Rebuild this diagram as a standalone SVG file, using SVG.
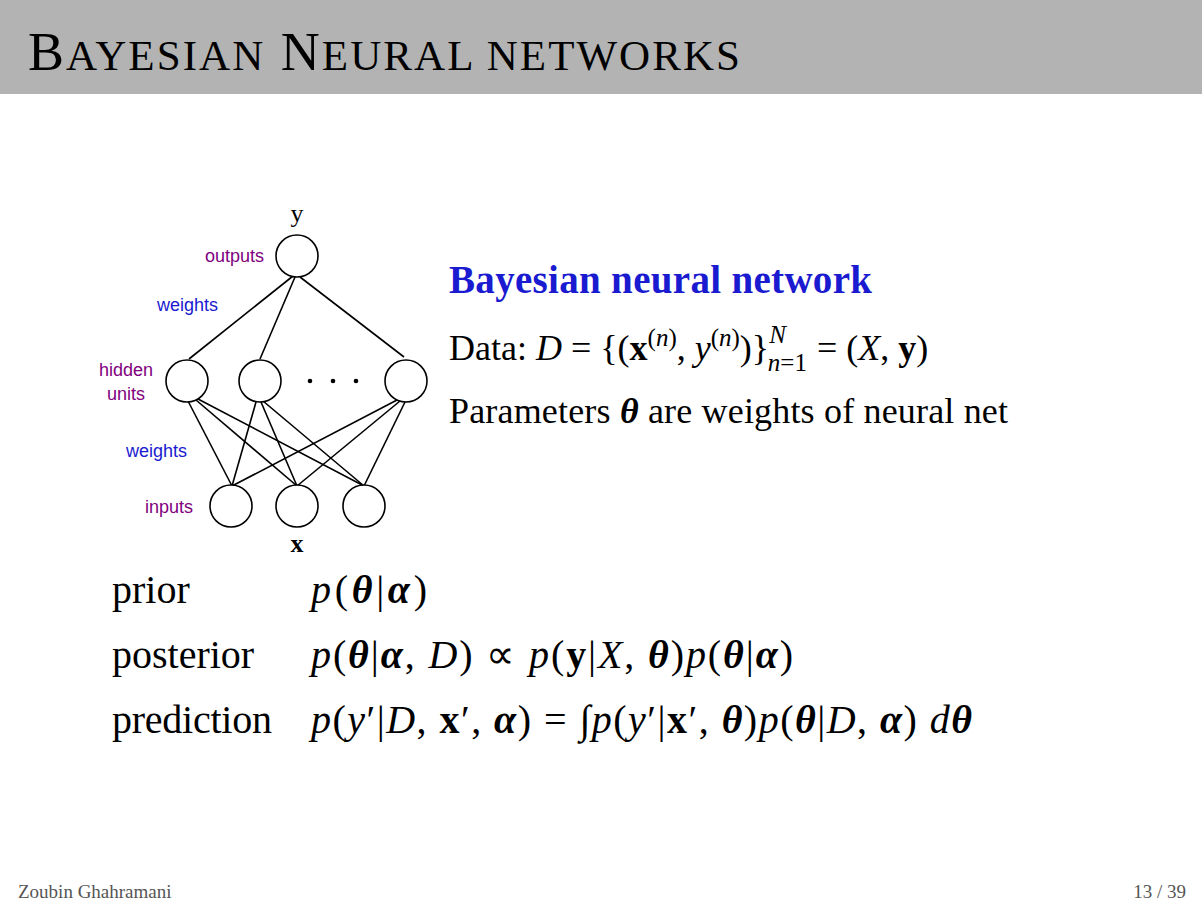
<svg xmlns="http://www.w3.org/2000/svg" width="1202" height="902" viewBox="0 0 1202 902">
<style>
.s{font-family:"Liberation Serif",serif;fill:#000}
.a{font-family:"Liberation Sans",Arial,sans-serif;font-size:18px}
.p{fill:#800080}.b{fill:#1a1ad0}
.n{fill:#fff;stroke:#000;stroke-width:1.6}
.e{stroke:#000;stroke-width:1.6;fill:none}
.m{font-size:40px}
</style>
<rect x="0" y="0" width="1202" height="94" fill="#b3b3b3"/>
<text class="s" x="28" y="70" font-size="54" textLength="712">B<tspan font-size="43">AYESIAN</tspan> N<tspan font-size="43">EURAL NETWORKS</tspan></text>
<g id="connectors">
<line class="e" x1="293" y1="276" x2="189" y2="359"/>
<line class="e" x1="295" y1="277" x2="260" y2="359"/>
<line class="e" x1="300" y1="277" x2="404" y2="357"/>
<line class="e" x1="188" y1="401" x2="232" y2="486"/>
<line class="e" x1="196" y1="400" x2="297" y2="486"/>
<line class="e" x1="198" y1="399" x2="364" y2="486"/>
<line class="e" x1="256" y1="402" x2="232" y2="486"/>
<line class="e" x1="261" y1="402" x2="297" y2="486"/>
<line class="e" x1="263" y1="401" x2="364" y2="486"/>
<line class="e" x1="397" y1="400" x2="232" y2="486"/>
<line class="e" x1="400" y1="401" x2="297" y2="486"/>
<line class="e" x1="405" y1="402" x2="364" y2="486"/>
</g>
<g id="out"><circle class="n" cx="297" cy="256" r="21"/></g>
<g id="h1"><circle class="n" cx="187" cy="381" r="21"/></g>
<g id="h2"><circle class="n" cx="260" cy="381" r="21"/></g>
<g id="h3"><circle class="n" cx="406" cy="381" r="21"/></g>
<g id="i1"><circle class="n" cx="231" cy="506" r="21"/></g>
<g id="i2"><circle class="n" cx="297" cy="506" r="21"/></g>
<g id="i3"><circle class="n" cx="364" cy="506" r="21"/></g>
<g id="dots"><circle cx="310" cy="381" r="2.3"/><circle cx="333" cy="381" r="2.3"/><circle cx="356" cy="381" r="2.3"/></g>
<text class="s" x="297" y="222" font-size="26" text-anchor="middle">y</text>
<text class="s" x="297" y="552" font-size="26" font-weight="bold" text-anchor="middle">x</text>
<text class="a p" x="264" y="262" text-anchor="end">outputs</text>
<text class="a b" x="157" y="311">weights</text>
<text class="a p" x="126" y="376" text-anchor="middle">hidden</text>
<text class="a p" x="126" y="400" text-anchor="middle">units</text>
<text class="a b" x="126" y="457">weights</text>
<text class="a p" x="193" y="513" text-anchor="end">inputs</text>
<text class="s" x="449" y="293" font-size="39" font-weight="bold" style="fill:#1a1ad0" textLength="423">Bayesian neural network</text>
<text class="s" x="449" y="360" font-size="36">Data: <tspan font-style="italic">D</tspan>  =  {(<tspan font-weight="bold">x</tspan><tspan font-size="25" dy="-14">(<tspan font-style="italic">n</tspan>)</tspan><tspan dy="14">, </tspan><tspan font-style="italic">y</tspan><tspan font-size="25" dy="-14">(<tspan font-style="italic">n</tspan>)</tspan><tspan dy="14">)}</tspan><tspan font-size="25" dy="-17" font-style="italic">N</tspan><tspan font-size="25" dx="-18" dy="28"><tspan font-style="italic">n</tspan>=1</tspan><tspan dy="-11" dx="10">=  (<tspan font-style="italic">X</tspan>, <tspan font-weight="bold">y</tspan>)</tspan></text>
<text class="s" x="449" y="423" font-size="36" textLength="559">Parameters <tspan font-weight="bold" font-style="italic">θ</tspan> are weights of neural net</text>
<text class="s m" x="112" y="603">prior</text>
<text class="s m" x="112" y="668">posterior</text>
<text class="s m" x="112" y="733" textLength="160">prediction</text>
<text class="s m" x="311" y="603" textLength="116"><tspan font-style="italic">p</tspan>(<tspan font-weight="bold" font-style="italic">θ</tspan>|<tspan font-weight="bold" font-style="italic">α</tspan>)</text>
<text class="s m" x="311" y="668" textLength="482"><tspan font-style="italic">p</tspan>(<tspan font-weight="bold" font-style="italic">θ</tspan>|<tspan font-weight="bold" font-style="italic">α</tspan>, <tspan font-style="italic">D</tspan>) ∝ <tspan font-style="italic">p</tspan>(<tspan font-weight="bold">y</tspan>|<tspan font-style="italic">X</tspan>, <tspan font-weight="bold" font-style="italic">θ</tspan>)<tspan font-style="italic">p</tspan>(<tspan font-weight="bold" font-style="italic">θ</tspan>|<tspan font-weight="bold" font-style="italic">α</tspan>)</text>
<text class="s m" x="311" y="733" textLength="661"><tspan font-style="italic">p</tspan>(<tspan font-style="italic">y</tspan>′|<tspan font-style="italic">D</tspan>, <tspan font-weight="bold">x</tspan>′, <tspan font-weight="bold" font-style="italic">α</tspan>) = ∫<tspan font-style="italic">p</tspan>(<tspan font-style="italic">y</tspan>′|<tspan font-weight="bold">x</tspan>′, <tspan font-weight="bold" font-style="italic">θ</tspan>)<tspan font-style="italic">p</tspan>(<tspan font-weight="bold" font-style="italic">θ</tspan>|<tspan font-style="italic">D</tspan>, <tspan font-weight="bold" font-style="italic">α</tspan>) <tspan font-style="italic">d</tspan><tspan font-weight="bold" font-style="italic">θ</tspan></text>
<text class="s" x="18" y="898" font-size="19" style="fill:#555">Zoubin Ghahramani</text>
<text class="s" x="1186" y="898" font-size="19" text-anchor="end" style="fill:#555">13 / 39</text>
</svg>
